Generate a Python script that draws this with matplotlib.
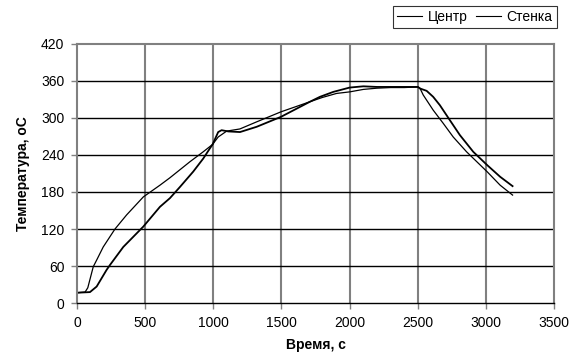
import matplotlib
matplotlib.use("Agg")
import matplotlib.pyplot as plt

plt.rcParams['font.family'] = ['Liberation Sans', 'DejaVu Sans']

# Стенка (wall) – heats faster, cools faster
wall_t = [0, 60, 80, 100, 120, 150, 193, 279, 365, 487, 609, 682, 829, 926, 995,
          1036, 1098, 1195, 1318, 1496, 1708, 1800, 1904, 2000, 2100, 2200, 2300,
          2400, 2500, 2515, 2539, 2612, 2686, 2759, 2857, 3008, 3103, 3194]
wall_T = [17, 18, 25, 42, 59, 72, 91, 120, 143, 172, 191, 203, 229, 245, 257,
          269, 278.5, 282, 293.5, 309.7, 326, 333, 339.5, 342, 346, 348, 349,
          349, 350, 348, 337, 312.5, 291, 269, 245, 212.7, 191, 175]

# Центр (center)
center_t = [0, 96, 145, 218, 243, 340, 487, 609, 682, 755, 853, 926, 975, 995,
            1036, 1061, 1110, 1196, 1318, 1496, 1708, 1782, 1880, 2000, 2100,
            2200, 2300, 2400, 2500, 2515, 2564, 2612, 2661, 2735, 2808, 2906,
            3008, 3103, 3194]
center_T = [17, 18, 27, 54, 62, 91, 124, 156, 170, 188, 213, 234, 250.5, 257,
            277, 280, 278, 277, 285.5, 301.6, 326, 334, 342, 349, 351,
            350, 350, 350, 350, 347.5, 343.7, 334, 320.5, 296, 272, 245,
            223.5, 204.6, 189.5]

xticks = [0, 500, 1000, 1500, 2000, 2500, 3000, 3500]
yticks = [0, 60, 120, 180, 240, 300, 360, 420]

fig = plt.figure(figsize=(5.75, 3.58), dpi=100)
ax = fig.add_axes([0.1337, 0.153, 0.964 - 0.1337, 0.878 - 0.153])

ax.plot(center_t, center_T, color='black', lw=1.3, label='Центр')
ax.plot(wall_t, wall_T, color='black', lw=0.9, label='Стенка')

ax.set_xlim(0, 3500)
ax.set_ylim(0, 420)
ax.set_xticks(xticks)
ax.set_yticks(yticks)

for x in xticks[1:-1]:
    ax.axvline(x, color='#808080', lw=1.5, zorder=0)
for y in yticks[1:-1]:
    ax.axhline(y, color='black', lw=1.0, zorder=0)

for s in ['top', 'right', 'left']:
    ax.spines[s].set_color('#808080')
    ax.spines[s].set_linewidth(1.5)
ax.spines['bottom'].set_color('black')
ax.spines['bottom'].set_linewidth(1.0)

ax.tick_params(axis='both', direction='out', length=4, width=1, color='#808080',
               labelsize=10, pad=5)

ax.set_xlabel('Время, с', fontsize=10, fontweight='bold', labelpad=6)
ax.set_ylabel('Температура, оС', fontsize=10, fontweight='bold', labelpad=8)

leg = ax.legend(loc='upper right', bbox_to_anchor=(1.005, 1.145), ncol=2,
                frameon=True, fancybox=False, fontsize=10, handlelength=1.8,
                handletextpad=0.4, columnspacing=0.6, borderpad=0.3,
                borderaxespad=0)
leg.get_frame().set_edgecolor('black')
leg.get_frame().set_linewidth(0.8)
for h in leg.get_lines():
    h.set_linewidth(0.8)

fig.savefig('out.png', dpi=100)
